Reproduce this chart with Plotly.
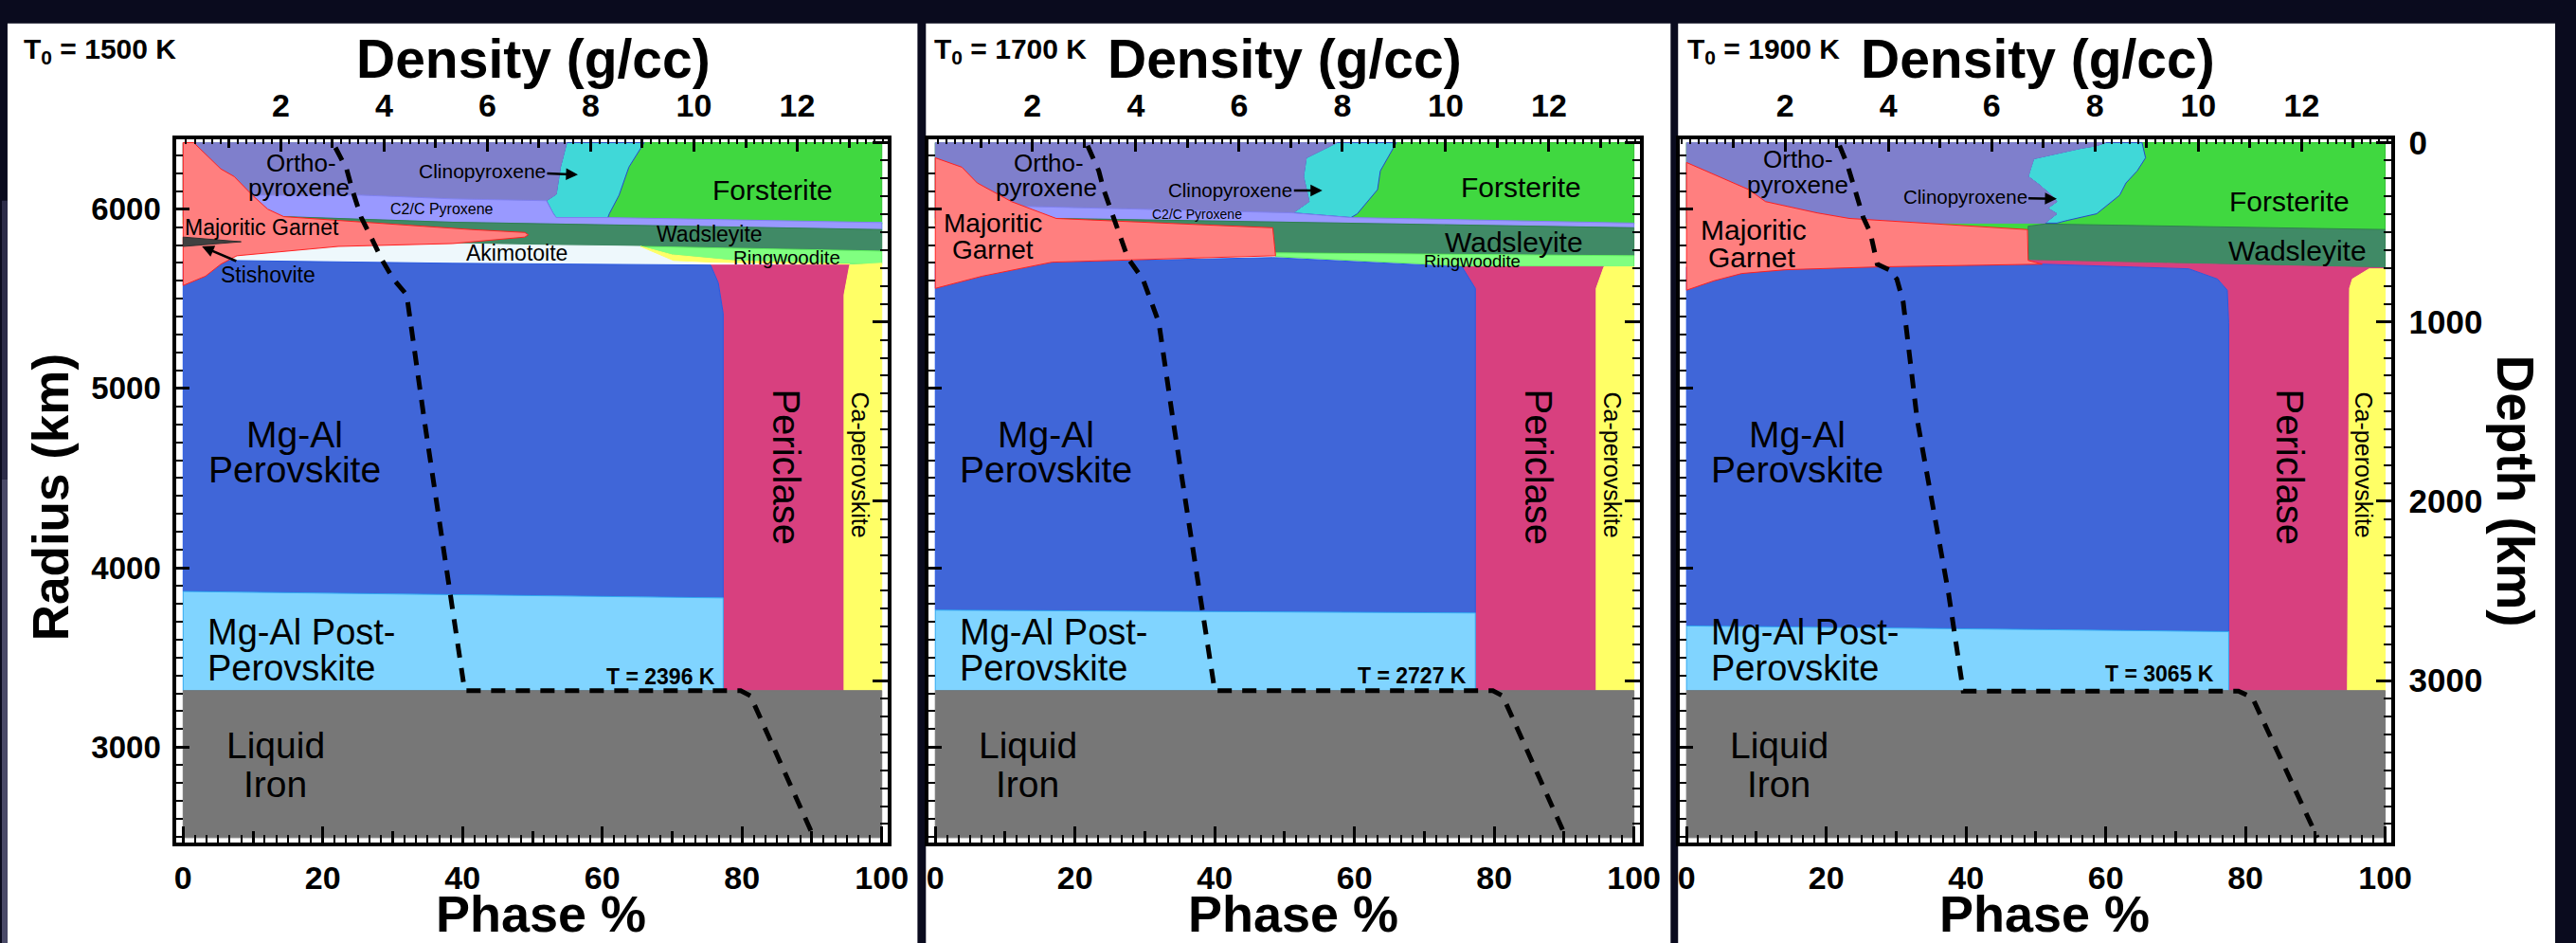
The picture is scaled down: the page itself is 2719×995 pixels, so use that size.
import plotly.graph_objects as go

W, H = 2719, 995
FONT = "Liberation Sans, Arial, Helvetica, sans-serif"

# ---------------- data (phase %, radius km) ----------------
TEMPS = ["1500", "1700", "1900"]
T_CMB = ["2396", "2727", "3065"]
PHASE_TICKS = [0, 20, 40, 60, 80, 100]
DENSITY_TICKS = [2, 4, 6, 8, 10, 12]
RADIUS_TICKS = [3000, 4000, 5000, 6000]
DEPTH_TICKS = [0, 1000, 2000, 3000]
R_SURF = 6371
R_BOT = 2495
R_CMB = 3315

# Panel 1 (T0 = 1500 K)
P1_FORSTERITE = [(0, 5917), (100, 5917), (100, 6371), (0, 6371)]
P1_CLINO = [(54.9, 6371), (54.0, 6234), (53.4, 6083), (52.0, 6047), (53.0, 5974), (53.4, 5953),
            (60.8, 5953), (61.0, 5974), (62.4, 6078), (63.8, 6234), (66.0, 6371)]
P1_CLINO_EDGE = [(98.0, 5925), (100, 5927), (100, 5880)]
P1_ORTHO = [(0, 6371), (54.9, 6371), (54.0, 6234), (53.4, 6083), (52.0, 6047), (38.6, 6057),
            (25.5, 6078), (12.1, 6078), (0, 6078)]
P1_C2C = [(0, 6078), (12.1, 6078), (25.5, 6078), (38.6, 6057), (52.0, 6047), (53.0, 5974), (53.4, 5953),
          (60.8, 5953), (80, 5940), (100, 5925), (100, 5886), (38.6, 5927), (14.4, 5958), (0, 5958)]
P1_WADS = [(14.4, 5958), (38.6, 5927), (100, 5886), (100, 5766), (65.5, 5792), (48.9, 5797), (14.4, 5834)]
P1_AKIM = [(0, 5808), (38.6, 5808), (48.9, 5800), (65.5, 5792), (70.2, 5714), (75.5, 5688),
           (38.6, 5698), (5.4, 5714), (0, 5714)]
P1_RINGW = [(65.5, 5792), (100, 5766), (100, 5693), (90, 5699), (78.9, 5712), (70, 5745)]
P1_CAPV_SLIVER = [(65.5, 5792), (70, 5745), (78.9, 5712), (95.4, 5693), (75.8, 5704), (70.2, 5714)]
P1_PERICLASE = [(75.5, 5688), (95.4, 5688), (94.6, 5522), (94.6, R_CMB), (77.3, R_CMB), (77.3, 5418),
                (76.6, 5589)]
P1_CAPV = [(95.4, 5688), (100, 5698), (100, R_CMB), (94.6, R_CMB), (94.6, 5522)]
P1_PV = [(0, 3868), (77.3, 3832), (77.3, 5418), (76.6, 5589), (75.5, 5688), (38.6, 5698), (5.4, 5714), (0, 5714)]
P1_PPV = [(0, R_CMB), (77.3, R_CMB), (77.3, 3832), (0, 3868)]
P1_IRON = [(0, R_BOT), (100, R_BOT), (100, R_CMB), (0, R_CMB)]
P1_GARNET = [(0, 6371), (1.5, 6371), (5.4, 6224), (7.3, 6182), (9.9, 6078), (12.1, 6000), (14.4, 5958),
             (41.3, 5886), (48.9, 5870), (49.4, 5857), (48.9, 5844), (38.6, 5808), (22.2, 5792),
             (14.4, 5766), (7.7, 5740), (5.4, 5693), (3.2, 5626), (0, 5574)]
P1_STISH = [(0, 5844), (8.3, 5818), (0, 5792)]
P1_TEMP_PCT = [21.8, 23.4, 24.2, 25.5, 26.9, 28.5, 30.1, 32.0, 34.5, 38.3, 39.9, 40.3, 79.8, 81.2, 90.3]
P1_TEMP_RAD = [6343, 6224, 6109, 5953, 5844, 5714, 5610, 5522, 4830, 3858, 3426, 3315, 3315, 3286, 2495]

# Panel 2 (T0 = 1700 K)
P2_FORSTERITE = [(0, 5917), (100, 5917), (100, 6371), (0, 6371)]
P2_CLINO = [(57.5, 6371), (53.1, 6286), (52.7, 6182), (53.5, 6042), (51.2, 5979), (59.5, 5953),
            (60.4, 5974), (63.3, 6109), (63.7, 6213), (65.6, 6338), (66.0, 6371)]
P2_ORTHO = [(0, 6371), (57.5, 6371), (53.1, 6286), (52.7, 6182), (53.5, 6042), (51.2, 5979),
            (12.0, 6016), (0, 6016)]
P2_C2C = [(0, 6016), (12.0, 6016), (51.2, 5979), (59.5, 5953), (100, 5922), (100, 5896), (17.3, 5948), (0, 5948)]
P2_WADS = [(17.3, 5948), (100, 5896), (100, 5740), (48.7, 5756), (17.3, 5770)]
P2_RINGW = [(48.7, 5756), (100, 5740), (100, 5678), (75.5, 5683), (48.7, 5735)]
P2_PERICLASE = [(75.4, 5678), (95.7, 5678), (94.6, 5558), (94.6, R_CMB), (77.3, R_CMB), (77.3, 5558)]
P2_CAPV = [(95.7, 5678), (100, 5678), (100, R_CMB), (94.6, R_CMB), (94.6, 5558)]
P2_PV = [(0, 3764), (77.3, 3748), (77.3, 5558), (75.4, 5678), (48.3, 5730), (16.5, 5704), (0, 5704)]
P2_PPV = [(0, R_CMB), (77.3, R_CMB), (77.3, 3748), (0, 3764)]
P2_IRON = [(0, R_BOT), (100, R_BOT), (100, R_CMB), (0, R_CMB)]
P2_GARNET = [(0, 6286), (3.8, 6234), (6.0, 6146), (10.9, 6042), (17.3, 5948), (48.3, 5896), (48.7, 5740),
             (16.7, 5704), (6.7, 5626), (0, 5558)]
P2_TEMP_PCT = [21.8, 23.4, 24.1, 25.3, 26.3, 27.4, 27.8, 29.7, 30.9, 32.0, 34.0, 37.8, 39.5, 40.0, 79.8, 81.2, 90.3]
P2_TEMP_RAD = [6354, 6213, 6109, 5974, 5870, 5745, 5714, 5610, 5485, 5366, 4830, 3858, 3426, 3315, 3315, 3286, 2495]

# Panel 3 (T0 = 1900 K)
P3_FORSTERITE = [(0, 5886), (100, 5886), (100, 6371), (0, 6371)]
P3_CLINO = [(60.0, 6371), (58.7, 6354), (56.3, 6338), (49.7, 6281), (49.3, 6234), (48.9, 6182), (50.5, 6135),
            (52.2, 6078), (53.0, 6042), (51.7, 6005), (53.0, 5974), (51.3, 5922), (53.0, 5922), (54.6, 5938),
            (58.7, 5974), (60.3, 6026), (62.0, 6078), (62.9, 6146), (64.5, 6213), (65.7, 6286), (65.3, 6354),
            (65.2, 6371)]
P3_ORTHO = [(0, 6371), (60.0, 6371), (58.7, 6354), (56.3, 6338), (49.7, 6281), (49.3, 6234), (48.9, 6182),
            (50.5, 6135), (52.2, 6078), (53.0, 6042), (51.7, 6005), (53.0, 5974), (51.3, 5922), (0, 5922)]
P3_WADS = [(48.9, 5905), (51.3, 5917), (100, 5886), (100, 5672), (48.9, 5714)]
P3_PERICLASE = [(50.9, 5693), (48.9, 5714), (100, 5672), (100, 5667), (97.7, 5667), (95.3, 5610), (94.9, 5558),
                (94.6, R_CMB), (77.6, R_CMB), (77.6, 5366), (77.4, 5548), (76.0, 5610), (71.9, 5667)]
P3_CAPV = [(97.7, 5667), (100, 5667), (100, R_CMB), (94.6, R_CMB), (94.9, 5558), (95.3, 5610)]
P3_PV = [(0, 3676), (77.6, 3644), (77.6, 5366), (77.4, 5548), (76.0, 5610), (71.9, 5667), (50.9, 5693),
         (27.7, 5678), (0, 5678)]
P3_PPV = [(0, R_CMB), (77.6, R_CMB), (77.6, 3644), (0, 3676)]
P3_IRON = [(0, R_BOT), (100, R_BOT), (100, R_CMB), (0, R_CMB)]
P3_GARNET = [(0, 6260), (4.4, 6187), (8.9, 6109), (11.3, 6042), (18.7, 5979), (23.3, 5948), (48.8, 5886),
             (48.9, 5714), (50.9, 5693), (27.7, 5678), (14.2, 5662), (7.9, 5641), (3.9, 5600), (0, 5548)]
P3_TEMP_PCT = [21.9, 23.0, 24.1, 25.3, 26.3, 27.0, 27.3, 29.0, 30.1, 31.0, 33.0, 37.5, 39.2, 39.6, 79.0, 81.0, 90.3]
P3_TEMP_RAD = [6354, 6250, 6109, 5953, 5870, 5745, 5693, 5662, 5610, 5485, 4830, 3858, 3426, 3312, 3312, 3275, 2495]

# labels: (text, phase %, radius, size, angle)
P1_LABELS = [("Ortho-", 16.9, 6255, 26, 0), ("pyroxene", 16.6, 6118, 26, 0),
             ("C2/C Pyroxene", 37.1, 6000, 16, 0), ("Majoritic Garnet", 11.3, 5896, 23, 0),
             ("Akimotoite", 47.8, 5756, 23, 0), ("Forsterite", 84.4, 6109, 30, 0),
             ("Wadsleyite", 75.4, 5860, 23, 0), ("Ringwoodite", 86.4, 5730, 20.5, 0)]
P2_LABELS = [("Ortho-", 16.2, 6255, 26, 0), ("pyroxene", 15.9, 6118, 26, 0),
             ("C2/C Pyroxene", 37.4, 5974, 14, 0), ("Majoritic", 8.3, 5922, 28, 0), ("Garnet", 8.2, 5771, 28, 0),
             ("Forsterite", 83.9, 6120, 30, 0), ("Wadsleyite", 82.8, 5818, 30, 0),
             ("Ringwoodite", 76.9, 5712, 18.5, 0)]
P3_LABELS = [("Ortho-", 16.0, 6276, 26, 0), ("pyroxene", 15.9, 6133, 26, 0),
             ("Majoritic", 9.6, 5886, 30, 0), ("Garnet", 9.3, 5730, 30, 0),
             ("Forsterite", 86.3, 6042, 30, 0), ("Wadsleyite", 87.5, 5766, 30, 0)]
LOWER_LABELS = [("Mg-Al", 15.9, 4743, 39, 0), ("Perovskite", 15.9, 4545, 39, 0),
                ("Liquid", 13.2, 3011, 39, 0), ("Iron", 13.2, 2792, 39, 0),
                ("Periclase", 86.3, 4560, 40, 90), ("Ca-perovskite", 96.9, 4575, 25, 90)]
PPV_LABELS = [("Mg-Al Post-", 3.2, 3640, 38), ("Perovskite", 3.2, 3442, 38)]
CLINO_ARROWS = [(56.5, 6192, -101, -4), (55.4, 6104, -97, 0), (53.0, 6057, -97, -2)]
T_LABEL_POS = [(76.5, 3395), (76.3, 3400), (75.8, 3410)]

# ---------------- layout geometry (pixels) ----------------
FRAME_L = [186, 987, 1787]
FRAME_R = [943, 1744, 2544]
FRAME_T, FRAME_B = 133, 887
PX_PER_PCT = 7.44
PX_PER_KM = 1 / 5.2
PX_PER_DENS = 55.0
ZERO_PHASE = [193, 994, 1794]
ZERO_DENS = [187, 987.5, 1789]
Y6000 = 208

def px(x):
    return x / W

def py(y):
    return 1 - y / H

C = dict(garnet="#ff7f7f", ortho="#7f7fcc", c2c="#9999ff", clino="#40d8d8", forst="#40d840",
         wads="#408a66", akim="#eef8fc", ringw="#80ff80", stish="#404040", pv="#4066d8",
         per="#d8407f", capv="#ffff66", ppv="#80d4ff", iron="#777777")

fig = go.Figure()

def poly(pts, fill, line, k, lw=1.0):
    xs = [p for p, r in pts] + [pts[0][0]]
    ys = [r for p, r in pts] + [pts[0][1]]
    sfx = "" if k == 0 else str(k + 1)
    fig.add_trace(go.Scatter(x=xs, y=ys, mode="lines", fill="toself", fillcolor=fill,
                             line=dict(color=line, width=lw), xaxis="x" + sfx, yaxis="y" + sfx,
                             hoverinfo="skip", showlegend=False))

panels = [
    [(P1_FORSTERITE, "forst", "#30c030"), (P1_CLINO, "clino", "#2848c8"), (P1_CLINO_EDGE, "clino", "#40d8d8"),
     (P1_ORTHO, "ortho", "#7f7fcc"), (P1_C2C, "c2c", "#8080f0"), (P1_WADS, "wads", "#308050"),
     (P1_AKIM, "akim", "#eef8fc"), (P1_RINGW, "ringw", "#60f060"), (P1_CAPV_SLIVER, "capv", "#ffff66"),
     (P1_PERICLASE, "per", "#d8407f"), (P1_CAPV, "capv", "#ffff66"), (P1_PV, "pv", "#2a5ae0"),
     (P1_PPV, "ppv", "#30a8f0"), (P1_IRON, "iron", "#777777"), (P1_GARNET, "garnet", "#ff2020"),
     (P1_STISH, "stish", "#303030")],
    [(P2_FORSTERITE, "forst", "#30c030"), (P2_CLINO, "clino", "#2848c8"), (P2_ORTHO, "ortho", "#7f7fcc"),
     (P2_C2C, "c2c", "#8080f0"), (P2_WADS, "wads", "#308050"), (P2_RINGW, "ringw", "#60f060"),
     (P2_PERICLASE, "per", "#d8407f"), (P2_CAPV, "capv", "#ffff66"), (P2_PV, "pv", "#2a5ae0"),
     (P2_PPV, "ppv", "#30a8f0"), (P2_IRON, "iron", "#777777"), (P2_GARNET, "garnet", "#ff2020")],
    [(P3_FORSTERITE, "forst", "#30c030"), (P3_CLINO, "clino", "#2848c8"), (P3_ORTHO, "ortho", "#7f7fcc"),
     (P3_WADS, "wads", "#308050"), (P3_PERICLASE, "per", "#d8407f"), (P3_CAPV, "capv", "#ffff66"),
     (P3_PV, "pv", "#2a5ae0"), (P3_PPV, "ppv", "#30a8f0"), (P3_IRON, "iron", "#777777"),
     (P3_GARNET, "garnet", "#ff2020")],
]
temps = [(P1_TEMP_PCT, P1_TEMP_RAD), (P2_TEMP_PCT, P2_TEMP_RAD), (P3_TEMP_PCT, P3_TEMP_RAD)]
labels = [P1_LABELS, P2_LABELS, P3_LABELS]

annotations = []
layout_axes = {}
for k in range(3):
    sfx = "" if k == 0 else str(k + 1)
    for pts, key, lc in panels[k]:
        poly(pts, C[key], lc, k)
    tp, tr = temps[k]
    fig.add_trace(go.Scatter(x=tp, y=tr, mode="lines", line=dict(color="black", width=5, dash="15px,11px"),
                             xaxis="x" + sfx, yaxis="y" + sfx, hoverinfo="skip", showlegend=False))
    for xa, ya in [("x" + str(4 + k), "y" + sfx), ("x" + str(7 + k), "y" + sfx),
                   ("x" + str(10 + k), "y" + sfx), ("x" + sfx, "y" + str(4 + k))]:
        fig.add_trace(go.Scatter(x=[None], y=[None], mode="lines", xaxis=xa, yaxis=ya,
                                 hoverinfo="skip", showlegend=False))

    L, R = FRAME_L[k], FRAME_R[k]
    x_rng = [(L - ZERO_PHASE[k]) / PX_PER_PCT, (R - ZERO_PHASE[k]) / PX_PER_PCT]
    d_rng = [(L - ZERO_DENS[k]) / PX_PER_DENS, (R - ZERO_DENS[k]) / PX_PER_DENS]
    r_top = 6000 + (Y6000 - FRAME_T) / PX_PER_KM
    r_bot = 6000 - (FRAME_B - Y6000) / PX_PER_KM
    dom_x = [px(L), px(R)]
    dom_y = [py(FRAME_B), py(FRAME_T)]
    tickfont = dict(family=FONT, size=34, color="black", weight="bold")

    layout_axes["xaxis" + sfx] = dict(
        domain=dom_x, range=x_rng, anchor="y" + sfx, tickmode="array", tickvals=PHASE_TICKS,
        ticks="inside", ticklen=17, tickwidth=3, tickcolor="black", showline=True, linewidth=4,
        linecolor="black", showgrid=False, zeroline=False, tickfont=tickfont, ticklabelstandoff=4,
        minor=dict(tickmode="array", tickvals=[i * 10 / 6 for i in range(61)], ticks="inside",
                   ticklen=8, tickwidth=2, tickcolor="black", showgrid=False))
    layout_axes["yaxis" + sfx] = dict(
        domain=dom_y, range=[r_bot, r_top], anchor="x" + sfx, tickmode="array", tickvals=RADIUS_TICKS,
        ticks="inside", ticklen=14, tickwidth=3, tickcolor="black", showline=True, linewidth=4,
        linecolor="black", showgrid=False, zeroline=False, showticklabels=(k == 0),
        tickfont=dict(family=FONT, size=33, color="black", weight="bold"), ticklabelstandoff=6,
        minor=dict(tickmode="array", tickvals=list(range(2500, 6400, 100)), ticks="inside", ticklen=7,
                   tickwidth=2, tickcolor="black", showgrid=False))
    layout_axes["xaxis" + str(4 + k)] = dict(
        overlaying="x" + sfx, anchor="y" + sfx, side="top", range=d_rng, tickmode="array",
        tickvals=DENSITY_TICKS, ticks="inside", ticklen=13, tickwidth=3, tickcolor="black",
        showline=True, linewidth=4, linecolor="black", showgrid=False, zeroline=False,
        tickfont=tickfont, ticklabelstandoff=6,
        minor=dict(tickmode="array", tickvals=[i / 6 for i in range(83)], ticks="inside", ticklen=5,
                   tickwidth=2, tickcolor="black", showgrid=False))
    layout_axes["xaxis" + str(7 + k)] = dict(
        overlaying="x" + sfx, anchor="y" + sfx, side="top", range=d_rng, tickmode="array",
        tickvals=[1, 3, 5, 7, 9, 11, 13], ticks="inside", ticklen=9, tickwidth=3, tickcolor="black",
        showline=False, showgrid=False, zeroline=False, showticklabels=False)
    layout_axes["xaxis" + str(10 + k)] = dict(
        overlaying="x" + sfx, anchor="y" + sfx, side="bottom", range=x_rng, tickmode="array",
        tickvals=[10, 30, 50, 70, 90], ticks="inside", ticklen=12, tickwidth=3, tickcolor="black",
        showline=False, showgrid=False, zeroline=False, showticklabels=False)
    layout_axes["yaxis" + str(4 + k)] = dict(
        overlaying="y" + sfx, anchor="x" + sfx, side="right", range=[R_SURF - r_bot, R_SURF - r_top],
        tickmode="array", tickvals=DEPTH_TICKS, ticks="inside", ticklen=16, tickwidth=3,
        tickcolor="black", showline=True, linewidth=4, linecolor="black", showgrid=False,
        zeroline=False, showticklabels=(k == 2), visible=True,
        tickfont=dict(family=FONT, size=35, color="black", weight="bold"), ticklabelstandoff=8,
        minor=dict(tickmode="array", tickvals=list(range(0, 3900, 100)), ticks="inside", ticklen=8,
                   tickwidth=2, tickcolor="black", showgrid=False))

    xr, yr = "x" + sfx, "y" + sfx
    def lab(text, p, r, size, angle=0, bold=False, xanchor="center"):
        annotations.append(dict(text=text, x=p, y=r, xref=xr, yref=yr, showarrow=False,
                                xanchor=xanchor, yanchor="middle", textangle=angle,
                                font=dict(family=FONT, size=size, color="black",
                                          weight="bold" if bold else "normal")))
    for t, p, r, s, a in labels[k] + LOWER_LABELS:
        lab(t, p, r, s, a)
    for t, p, r, s in PPV_LABELS:
        lab(t, p, r, s, 0, xanchor="left")
    tx, ty = T_LABEL_POS[k]
    lab("T = " + T_CMB[k] + " K", tx, ty, 23, 0, bold=True, xanchor="right")
    ax_p, ax_r, axo, ayo = CLINO_ARROWS[k]
    annotations.append(dict(text="Clinopyroxene", x=ax_p, y=ax_r, xref=xr, yref=yr, showarrow=True,
                            ax=axo, ay=ayo, arrowhead=2, arrowsize=1.0, arrowwidth=2.5, arrowcolor="black",
                            standoff=0, startstandoff=0,
                            font=dict(family=FONT, size=21 if k == 0 else 20.5, color="black")))
    annotations.append(dict(text="T<sub>0</sub> = " + TEMPS[k] + " K", x=px([21, 991, 1793][k]), y=py(38),
                            xref="paper", yref="paper", showarrow=False, xanchor="left", yanchor="middle",
                            font=dict(family=FONT, size=30, color="black", weight="bold")))
    annotations.append(dict(text="Density (g/cc)", x=px([566, 1366, 2168][k]), y=py(47), xref="paper",
                            yref="paper", showarrow=False, xanchor="center", yanchor="middle",
                            font=dict(family=FONT, size=57, color="black", weight="bold")))
    annotations.append(dict(text="Phase %", x=px([574, 1375, 2175][k]), y=py(964), xref="paper",
                            yref="paper", showarrow=False, xanchor="center", yanchor="middle",
                            font=dict(family=FONT, size=54, color="black", weight="bold")))

annotations.append(dict(text="Stishovite", x=2.7, y=5792, xref="x", yref="y", showarrow=True, ax=70, ay=30,
                        arrowhead=2, arrowsize=1.0, arrowwidth=2.5, arrowcolor="black", standoff=0,
                        font=dict(family=FONT, size=23, color="black")))
annotations.append(dict(text="Radius (km)", x=px(52), y=py(517), xref="paper", yref="paper", showarrow=False,
                        xanchor="center", yanchor="middle", textangle=-90,
                        font=dict(family=FONT, size=53, color="black", weight="bold")))
annotations.append(dict(text="Depth (km)", x=px(2677), y=py(510), xref="paper", yref="paper", showarrow=False,
                        xanchor="center", yanchor="middle", textangle=90,
                        font=dict(family=FONT, size=55, color="black", weight="bold")))

shapes = [
    dict(type="rect", xref="paper", yref="paper", x0=px(6), x1=px(975), y0=0, y1=py(9),
         fillcolor="white", line=dict(width=0), layer="below"),
    dict(type="rect", xref="paper", yref="paper", x0=px(984), x1=px(1777), y0=0, y1=py(9),
         fillcolor="white", line=dict(width=0), layer="below"),
    dict(type="rect", xref="paper", yref="paper", x0=px(1785), x1=1, y0=0, y1=py(9),
         fillcolor="white", line=dict(width=0), layer="below"),
    dict(type="rect", xref="paper", yref="paper", x0=0, x1=px(6), y0=0, y1=0.5,
         fillcolor="#4a4a68", line=dict(width=0), layer="below"),
    dict(type="rect", xref="paper", yref="paper", x0=0, x1=px(6), y0=0.5, y1=0.8,
         fillcolor="#2c2c48", line=dict(width=0), layer="below"),
]

fig.update_layout(width=W, height=H, margin=dict(l=0, r=0, t=0, b=0), paper_bgcolor="#0a0b1e",
                  plot_bgcolor="white", showlegend=False, annotations=annotations, shapes=shapes,
                  **layout_axes)
fig.write_html("out.html", config={"displayModeBar": False},
               post_script="document.body.style.margin='0';document.body.style.overflow='hidden';")
